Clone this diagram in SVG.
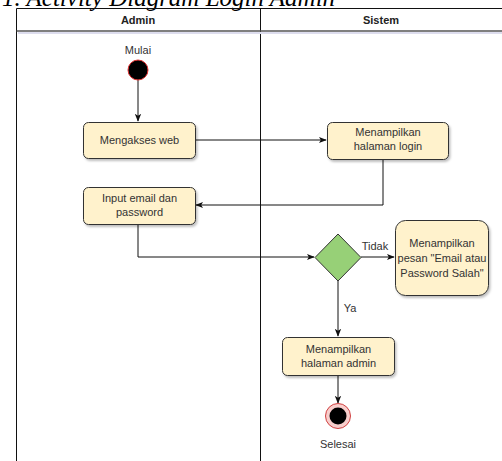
<svg xmlns="http://www.w3.org/2000/svg" width="502" height="461" viewBox="0 0 502 461">
  <style>
    .t { font-family: "Liberation Sans", Arial, sans-serif; font-size: 11px; fill: #333; text-anchor: middle; }
    .h { font-family: "Liberation Sans", Arial, sans-serif; font-size: 11px; font-weight: bold; fill: #222; text-anchor: middle; }
    .box { fill: #fff2cc; stroke: #333; stroke-width: 1; filter: url(#sh); }
    .edge { fill: none; stroke: #111; stroke-width: 1; marker-end: url(#arr); }
    .lane { fill: none; stroke: #111; stroke-width: 1; }
  </style>
  <defs>
    <marker id="arr" viewBox="0 0 10 10" refX="9" refY="5" markerWidth="8" markerHeight="8" markerUnits="userSpaceOnUse" orient="auto">
      <path d="M0,1 L10,5 L0,9 L2.5,5 Z" fill="#111"/>
    </marker>
    <filter id="sh" x="-20%" y="-20%" width="140%" height="150%">
      <feDropShadow dx="1.5" dy="2" stdDeviation="1.2" flood-color="#000" flood-opacity="0.25"/>
    </filter>
  </defs>

  <rect width="502" height="461" fill="#fff"/>

  <!-- heading, clipped at the top edge -->
  <text x="2" y="6" font-family="'Liberation Serif', 'Times New Roman', serif" font-style="italic" font-size="25" fill="#000">1. Activity Diagram Login Admin</text>

  <!-- swimlanes -->
  <g id="lanes">
    <line class="lane" x1="16.5" y1="8.5" x2="502" y2="8.5"/>
    <line class="lane" x1="16.5" y1="8.5" x2="16.5" y2="461"/>
    <line class="lane" x1="260.5" y1="8.5" x2="260.5" y2="461"/>
    <line x1="16.5" y1="31" x2="502" y2="31" stroke="#555" stroke-width="1.5"/>
    <line x1="18" y1="33" x2="502" y2="33" stroke="#dde" stroke-width="2"/>
    <text class="h" x="138" y="24">Admin</text>
    <text class="h" x="381" y="24">Sistem</text>
  </g>

  <!-- connectors -->
  <g id="connectors">
    <path class="edge" d="M138,80 V121"/>
    <path class="edge" d="M195,140 H326"/>
    <path class="edge" d="M383,159 V205 H196"/>
    <path class="edge" d="M138,224 V257 H314"/>
    <path class="edge" d="M361,257 H394"/>
    <path class="edge" d="M338,281 V336"/>
    <path class="edge" d="M338,375 V403"/>
    <text class="t" x="375" y="250">Tidak</text>
    <text class="t" x="350" y="312">Ya</text>
  </g>

  <g id="start">
    <circle cx="138" cy="70" r="10" fill="#000" stroke="#e03030" stroke-width="1"/>
    <text class="t" x="138" y="54">Mulai</text>
  </g>

  <g id="mengakses-web">
    <rect class="box" x="83.5" y="122.5" width="112" height="36" rx="5"/>
    <text class="t" x="139.5" y="144">Mengakses web</text>
  </g>

  <g id="halaman-login">
    <rect class="box" x="327.5" y="122.5" width="121" height="37" rx="5"/>
    <text class="t" x="388" y="136">Menampilkan</text>
    <text class="t" x="388" y="150">halaman login</text>
  </g>

  <g id="input-email">
    <rect class="box" x="83.5" y="187.5" width="112" height="37" rx="5"/>
    <text class="t" x="139.5" y="202">Input email dan</text>
    <text class="t" x="139.5" y="216">password</text>
  </g>

  <g id="decision">
    <path d="M338,234 L361,257.5 L338,281 L315,257.5 Z" fill="#97d077" stroke="#333" stroke-width="1"/>
  </g>

  <g id="pesan-salah">
    <rect class="box" x="395.5" y="220.5" width="93" height="75" rx="10"/>
    <text class="t" x="442" y="247">Menampilkan</text>
    <text class="t" x="442" y="262">pesan "Email atau</text>
    <text class="t" x="442" y="277">Password Salah"</text>
  </g>

  <g id="halaman-admin">
    <rect class="box" x="282.5" y="337.5" width="112" height="38" rx="5"/>
    <text class="t" x="338.5" y="353">Menampilkan</text>
    <text class="t" x="338.5" y="367">halaman admin</text>
  </g>

  <g id="end">
    <circle cx="338" cy="416" r="12.5" fill="#f8cecc" stroke="#d04040" stroke-width="1"/>
    <circle cx="338" cy="416" r="8.5" fill="#000"/>
    <text class="t" x="338" y="448">Selesai</text>
  </g>
</svg>
